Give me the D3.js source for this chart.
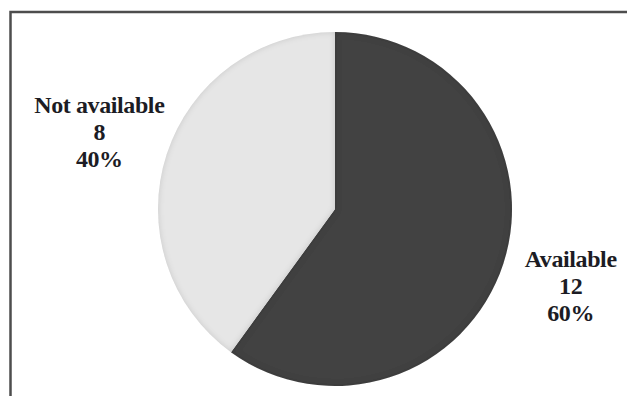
<!DOCTYPE html>
<html>
<head>
<meta charset="utf-8">
<script src="https://cdn.jsdelivr.net/npm/d3@7"></script>
<style>
  body { margin: 0; background: #fff; }
  svg { display: block; }
</style>
</head>
<body>
<svg></svg>
<script>
const categories = ['Available', 'Not available']
const counts = [12, 8]
const shares = ['60%', '40%']
const colors = ['#434343', '#e6e6e6']

const data = categories.map((c, i) => ({name: c, value: counts[i], share: shares[i], color: colors[i]}))

const [svgWidth, svgHeight] = [627, 396]
const svg = d3.select('svg').attr('width', svgWidth).attr('height', svgHeight)

const translate = (x, y) => `translate(${x}, ${y})`

// chart frame, runs off the right and bottom like the source
svg.append('rect')
  .attr('x', 10.5).attr('y', 12)
  .attr('width', 700).attr('height', 500)
  .attr('fill', 'none')
  .attr('stroke', '#4d4d4d')
  .attr('stroke-width', 2.5)

const cx = 335, cy = 209, radius = 177

const defs = svg.append('defs')
const inner = defs.append('filter').attr('id', 'bevel')
  .attr('x', '-10%').attr('y', '-10%').attr('width', '120%').attr('height', '120%')
inner.append('feGaussianBlur').attr('in', 'SourceAlpha').attr('stdDeviation', 3).attr('result', 'blur')
inner.append('feComposite').attr('in', 'SourceAlpha').attr('in2', 'blur').attr('operator', 'out').attr('result', 'edge')
inner.append('feFlood').attr('flood-color', '#000').attr('flood-opacity', 0.28)
inner.append('feComposite').attr('in2', 'edge').attr('operator', 'in').attr('result', 'shade')
const merge = inner.append('feMerge')
merge.append('feMergeNode').attr('in', 'SourceGraphic')
merge.append('feMergeNode').attr('in', 'shade')

const container = svg.append('g').attr('transform', translate(cx, cy))

const pie = d3.pie().sort(null).value(d => d.value)
const arc = d3.arc().innerRadius(0).outerRadius(radius)
const labelArc = d3.arc().innerRadius(radius * 1.4).outerRadius(radius * 1.4)

container.selectAll('path').data(pie(data)).enter().append('path')
  .attr('d', arc)
  .attr('fill', d => d.data.color)
  .attr('filter', 'url(#bevel)')

const lineH = 27
const labels = container.selectAll('g.label').data(pie(data)).enter().append('g')
  .attr('class', 'label')
  .attr('transform', d => {
    const [x, y] = labelArc.centroid(d)
    return translate(x, y)
  })

labels.each(function (d) {
  const g = d3.select(this)
  const lines = [d.data.name, d.data.value, d.data.share]
  g.selectAll('text').data(lines).enter().append('text')
    .attr('x', 0)
    .attr('y', (t, i) => (i - 1) * lineH + 8)
    .attr('text-anchor', 'middle')
    .style('font-family', '"Liberation Serif", "Times New Roman", serif')
    .style('font-weight', 'bold')
    .style('font-size', '24px')
    .style('letter-spacing', '-0.4px')
    .style('fill', '#1c1c24')
    .text(t => t)
})
</script>
</body>
</html>
